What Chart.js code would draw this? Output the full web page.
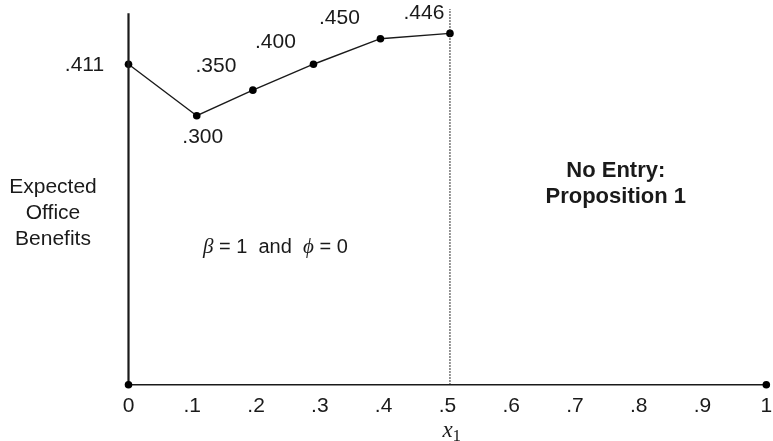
<!DOCTYPE html>
<html>
<head>
<meta charset="utf-8">
<script src="https://cdn.jsdelivr.net/npm/chart.js@4/dist/chart.umd.min.js"></script>
<style>
  html, body { margin: 0; padding: 0; background: #fff; }
  #wrap { width: 773px; height: 441px; }
</style>
</head>
<body>
<div id="wrap"><canvas id="chart" width="773" height="441"></canvas></div>
<script>
// --- Data ---
const xPositions = [0, 0.107, 0.195, 0.29, 0.395, 0.504];
const benefits = [0.853, 0.716, 0.784, 0.853, 0.921, 0.935];
const pointLabels = ['.411', '.300', '.350', '.400', '.450', '.446'];
const xTickLabels = ['0', '.1', '.2', '.3', '.4', '.5', '.6', '.7', '.8', '.9', '1'];
const xRange = [0, 1];
const yAxisTop = 0.989;
const entryBoundary = 0.504;

// label placement relative to each point (pixels)
const labelOffsets = [[-44, 1], [6, 22], [-37, -24], [-38, -22], [-41, -20], [-26, -20]];

const INK = '#1a1a1a';
const SANS = '"Liberation Sans", Arial, Helvetica, sans-serif';
const SERIF = '"Liberation Serif", "Times New Roman", serif';

const textPlugin = {
    id: 'figureText',
    afterDatasetsDraw(chart) {
        const { ctx, scales: { x, y } } = chart;
        ctx.save();
        ctx.fillStyle = INK;
        ctx.textBaseline = 'middle';

        // point value labels
        ctx.font = '21px ' + SANS;
        ctx.textAlign = 'center';
        pointLabels.forEach((lbl, i) => {
            const px = x.getPixelForValue(xPositions[i]) + labelOffsets[i][0];
            const py = y.getPixelForValue(benefits[i]) + labelOffsets[i][1];
            ctx.fillText(lbl, px, py);
        });

        // y axis title
        ['Expected', 'Office', 'Benefits'].forEach((t, i) => {
            ctx.fillText(t, 53, 187 + i * 26);
        });

        // region label
        ctx.font = 'bold 22px ' + SANS;
        const regionX = x.getPixelForValue(0.764);
        ctx.fillText('No Entry:', regionX, 171);
        ctx.fillText('Proposition 1', regionX, 197);

        // beta = 1 and phi = 0
        ctx.textAlign = 'left';
        let cx = 203;
        const cy = 247;
        const parts = [
            ['β', 'italic 21px ' + SERIF],
            [' = 1  and  ', '20px ' + SANS],
            ['ϕ', 'italic 21px ' + SERIF],
            [' = 0', '20px ' + SANS]
        ];
        parts.forEach(([t, f]) => {
            ctx.font = f;
            ctx.fillText(t, cx, cy);
            cx += ctx.measureText(t).width;
        });

        // x axis title: x subscript 1
        const tx = x.getPixelForValue(0.5);
        ctx.font = 'italic 23px ' + SERIF;
        const wx = ctx.measureText('x').width;
        ctx.fillText('x', tx - 5, 431);
        ctx.font = '17px ' + SERIF;
        ctx.fillText('1', tx - 5 + wx, 437);

        ctx.restore();
    }
};

const ctx = document.getElementById('chart').getContext('2d');
new Chart(ctx, {
    type: 'scatter',
    data: {
        datasets: [
            {
                // horizontal axis line with end dots
                data: [{ x: xRange[0], y: 0 }, { x: xRange[1], y: 0 }],
                showLine: true,
                borderColor: INK,
                borderWidth: 1.6,
                pointRadius: 3.8,
                pointBackgroundColor: '#000',
                pointBorderWidth: 0,
                clip: false
            },
            {
                // vertical axis line
                data: [{ x: 0, y: 0 }, { x: 0, y: yAxisTop }],
                showLine: true,
                borderColor: INK,
                borderWidth: 2.2,
                pointRadius: 0,
                clip: false
            },
            {
                // dotted boundary at entry threshold
                data: [{ x: entryBoundary, y: 0 }, { x: entryBoundary, y: 1 }],
                showLine: true,
                borderColor: INK,
                borderWidth: 1.2,
                borderDash: [1.5, 1.5],
                pointRadius: 0,
                clip: false
            },
            {
                data: xPositions.map((v, i) => ({ x: v, y: benefits[i] })),
                showLine: true,
                borderColor: INK,
                borderWidth: 1.4,
                pointRadius: 3.8,
                pointBackgroundColor: '#000',
                pointBorderWidth: 0,
                clip: false
            }
        ]
    },
    options: {
        responsive: false,
        animation: false,
        events: [],
        layout: { padding: { left: 128.5, right: 6.7, top: 9, bottom: 0 } },
        plugins: { legend: { display: false }, tooltip: { enabled: false } },
        scales: {
            x: {
                type: 'linear',
                min: xRange[0],
                max: xRange[1],
                grid: { display: false, drawTicks: false },
                border: { display: false },
                afterFit: (scale) => {
                    scale.height = 56.3;
                    scale.paddingLeft = 0;
                    scale.paddingRight = 0;
                },
                afterBuildTicks: (scale) => {
                    scale.ticks = xTickLabels.map((_, i) => ({ value: i / 10 }));
                },
                ticks: {
                    autoSkip: false,
                    maxRotation: 0,
                    padding: 9,
                    color: INK,
                    font: { family: SANS, size: 21 },
                    callback: (v, i) => xTickLabels[i]
                }
            },
            y: {
                display: false,
                min: 0,
                max: 1
            }
        }
    },
    plugins: [textPlugin]
});
</script>
</body>
</html>
